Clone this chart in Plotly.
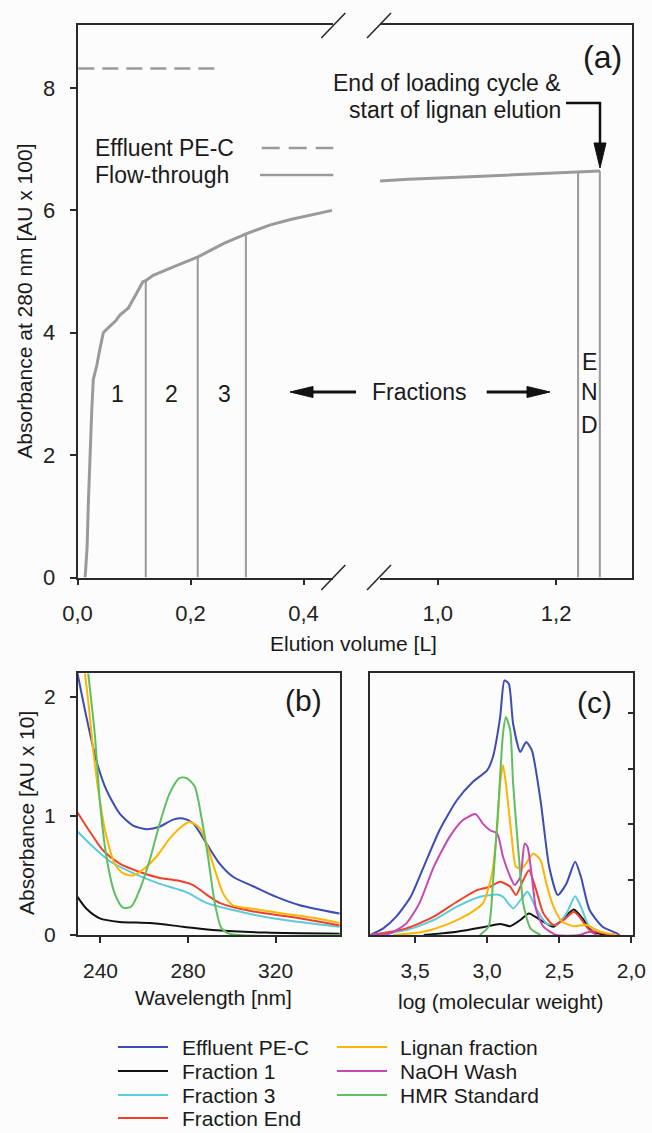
import numpy as np
import plotly.graph_objects as go

W, H = 652, 1133
FONT = "Liberation Sans, Arial, sans-serif"
AXC = "#2a2a2a"
GRAY = "#9a9a9a"

# ---------------- Panel (a) data ----------------
ft_vol = [0.0135, 0.017, 0.0194, 0.022, 0.0253, 0.028, 0.034, 0.040, 0.0457, 0.0575, 0.068,
          0.075, 0.0897, 0.1044, 0.1155, 0.1208, 0.134, 0.1707, 0.2133, 0.259, 0.2995, 0.340,
          0.377, 0.4505,
          0.902, 0.95, 1.0545, 1.15, 1.2233, 1.274]
ft_abs = [0.0, 0.5, 1.27, 2.0, 2.75, 3.24, 3.46, 3.75, 4.0, 4.11, 4.2,
          4.29, 4.40, 4.64, 4.83, 4.85, 4.94, 5.08, 5.24, 5.46, 5.62, 5.76,
          5.85, 6.00,
          6.48, 6.51, 6.55, 6.59, 6.62, 6.645]
effluent_vol = [0.0014, 0.2554]
effluent_abs = [8.32, 8.32]
fraction_bounds = [0.1208, 0.2128, 0.298, 1.237, 1.2737]
fraction_labels = ["1", "2", "3"]
fraction_label_vol = [0.0704, 0.1655, 0.261]
fraction_label_abs = 3.0
end_letters = ["E", "N", "D"]
end_letter_vol = 1.2555
end_letter_abs = [3.53, 3.03, 2.49]
BREAK_LO, BREAK_HI = 0.4527, 0.9026

# ---------------- Panel (b) data: UV spectra ----------------
b_series = {
    "Effluent PE-C": ([229.5, 233.6, 238.2, 242.7, 248.8, 254.9, 261.0, 267.0, 273.2, 277.7, 282.3,
                       288.4, 294.4, 300.5, 309.7, 320.3, 331.0, 349.2],
                      [2.2, 1.83, 1.46, 1.22, 1.02, 0.92, 0.89, 0.91, 0.97, 0.98, 0.94,
                       0.77, 0.60, 0.49, 0.41, 0.32, 0.25, 0.18]),
    "Fraction 1": ([229.5, 233.6, 239.7, 248.8, 262.5, 277.7, 293.0, 315.7, 349.2],
                   [0.32, 0.22, 0.14, 0.11, 0.10, 0.07, 0.04, 0.02, 0.01]),
    "Fraction 3": ([229.5, 236.7, 244.3, 254.9, 267.1, 279.2, 288.4, 300.5, 315.7, 331.0, 349.2],
                   [0.87, 0.74, 0.62, 0.52, 0.43, 0.36, 0.27, 0.21, 0.15, 0.11, 0.07]),
    "Fraction End": ([229.5, 235.1, 241.2, 248.8, 257.9, 267.1, 274.7, 282.3, 288.4, 294.4, 303.6,
                      315.7, 331.0, 349.2],
                     [1.03, 0.87, 0.71, 0.60, 0.53, 0.48, 0.46, 0.42, 0.34, 0.27, 0.22,
                      0.18, 0.14, 0.08]),
    "Lignan fraction": ([232.9, 234.4, 236.7, 239.7, 242.7, 246.5, 250.3, 254.9, 259.5, 265.6, 271.6,
                         277.7, 280.7, 285.3, 288.4, 292.2, 296.0, 300.5, 309.7, 323.3, 338.6, 349.2],
                        [2.2, 1.97, 1.55, 1.13, 0.83, 0.60, 0.52, 0.50, 0.55, 0.66, 0.81,
                         0.92, 0.95, 0.90, 0.77, 0.55, 0.35, 0.25, 0.22, 0.18, 0.14, 0.10]),
    "HMR Standard": ([234.4, 237.4, 239.7, 242.7, 246.5, 250.3, 254.1, 257.9, 262.5, 267.1, 271.6,
                      276.2, 279.2, 283.0, 286.1, 289.1, 292.2, 295.2, 299.0, 349.2],
                     [2.2, 1.69, 1.13, 0.66, 0.35, 0.23, 0.24, 0.38, 0.63, 0.94, 1.19,
                      1.32, 1.32, 1.25, 0.99, 0.66, 0.27, 0.06, 0.01, 0.0]),
}

# ---------------- Panel (c) data: SEC traces ----------------
c_series = {
    "Effluent PE-C": ([3.81, 3.72, 3.63, 3.53, 3.44, 3.33, 3.21, 3.10, 3.00, 2.96, 2.91, 2.88, 2.85,
                       2.82, 2.77, 2.73, 2.69, 2.63, 2.57, 2.51, 2.45, 2.39, 2.35, 2.29, 2.20, 2.10, 2.08],
                      [0.0, 0.12, 0.33, 0.69, 1.23, 1.89, 2.43, 2.76, 2.97, 3.21, 3.93, 4.59, 4.53,
                       3.81, 3.30, 3.48, 3.33, 2.43, 1.23, 0.72, 0.93, 1.32, 1.05, 0.45, 0.15, 0.03, 0.0]),
    "Fraction 1": ([3.44, 3.21, 3.03, 2.91, 2.84, 2.77, 2.71, 2.63, 2.54, 2.47, 2.40, 2.33, 2.27, 2.17],
                   [0.0, 0.06, 0.14, 0.20, 0.16, 0.27, 0.39, 0.27, 0.15, 0.30, 0.46, 0.27, 0.06, 0.0]),
    "Fraction 3": ([3.81, 3.56, 3.37, 3.21, 3.05, 2.93, 2.89, 2.82, 2.76, 2.72, 2.66, 2.59, 2.52,
                    2.45, 2.39, 2.35, 2.29, 2.17, 2.08],
                   [0.0, 0.09, 0.27, 0.51, 0.69, 0.73, 0.69, 0.48, 0.66, 0.78, 0.48, 0.21, 0.18,
                    0.39, 0.70, 0.51, 0.15, 0.02, 0.0]),
    "Fraction End": ([3.81, 3.56, 3.37, 3.21, 3.07, 2.98, 2.91, 2.84, 2.80, 2.75, 2.71, 2.66, 2.61,
                      2.54, 2.47, 2.40, 2.36, 2.29, 2.17, 2.08],
                     [0.0, 0.12, 0.33, 0.60, 0.81, 0.87, 0.96, 0.87, 0.72, 0.99, 1.17, 0.81, 0.39,
                      0.18, 0.27, 0.42, 0.33, 0.09, 0.02, 0.0]),
    "Lignan fraction": ([3.65, 3.44, 3.26, 3.12, 3.03, 2.97, 2.93, 2.91, 2.89, 2.87, 2.83, 2.80, 2.76,
                         2.73, 2.68, 2.63, 2.59, 2.54, 2.48, 2.40, 2.31, 2.22, 2.10],
                        [0.0, 0.06, 0.21, 0.39, 0.57, 1.05, 1.95, 2.73, 3.06, 2.73, 1.77, 1.23, 1.20,
                         1.29, 1.47, 1.35, 0.93, 0.51, 0.24, 0.16, 0.18, 0.06, 0.0]),
    "NaOH Wash": ([3.81, 3.67, 3.56, 3.47, 3.37, 3.26, 3.17, 3.08, 3.03, 2.98, 2.93, 2.89, 2.84,
                   2.81, 2.77, 2.74, 2.72, 2.69, 2.66, 2.61, 2.52, 2.36, 2.29, 2.24],
                  [0.0, 0.03, 0.21, 0.57, 1.23, 1.77, 2.07, 2.18, 2.01, 1.89, 1.83, 1.41, 1.05,
                   0.90, 1.05, 1.65, 1.59, 1.05, 0.45, 0.15, 0.0, 0.0, 0.06, 0.0]),
    "HMR Standard": ([3.05, 2.99, 2.96, 2.92, 2.89, 2.87, 2.84, 2.82, 2.78, 2.75, 2.70, 2.63],
                     [0.0, 0.15, 0.93, 2.43, 3.63, 3.93, 3.69, 2.73, 1.41, 0.57, 0.12, 0.0]),
}

colors = {
    "Effluent PE-C": "#3b4db2",
    "Fraction 1": "#111111",
    "Fraction 3": "#5ccbdc",
    "Fraction End": "#f0402c",
    "Lignan fraction": "#ffb400",
    "NaOH Wash": "#c548b4",
    "HMR Standard": "#5dbf5d",
}
legend_col1 = ["Effluent PE-C", "Fraction 1", "Fraction 3", "Fraction End"]
legend_col2 = ["Lignan fraction", "NaOH Wash", "HMR Standard"]


def P(x, y):
    return x / W, 1 - y / H


fig = go.Figure()

# ---- panel (a) traces ----
ft_vol_a = np.array(ft_vol)
ft_abs_a = np.array(ft_abs)
left = ft_vol_a < 0.6
fig.add_trace(go.Scatter(x=ft_vol_a[left], y=ft_abs_a[left], mode="lines",
                         line=dict(color=GRAY, width=3), xaxis="x", yaxis="y",
                         showlegend=False, name="Flow-through"))
fig.add_trace(go.Scatter(x=ft_vol_a[~left], y=ft_abs_a[~left], mode="lines",
                         line=dict(color=GRAY, width=3), xaxis="x2", yaxis="y2",
                         showlegend=False, name="Flow-through"))
fig.add_trace(go.Scatter(x=effluent_vol, y=effluent_abs, mode="lines",
                         line=dict(color=GRAY, width=2.5, dash="16px,8px"), xaxis="x", yaxis="y",
                         showlegend=False, name="Effluent PE-C"))
for xb in fraction_bounds:
    top = float(np.interp(xb, ft_vol, ft_abs))
    ax_ = ("x", "y") if xb < 0.6 else ("x2", "y2")
    fig.add_trace(go.Scatter(x=[xb, xb], y=[0, top], mode="lines",
                             line=dict(color=GRAY, width=2), xaxis=ax_[0], yaxis=ax_[1],
                             showlegend=False, hoverinfo="skip"))

# ---- panel (b) traces ----
for name, (xs, ys) in b_series.items():
    fig.add_trace(go.Scatter(x=xs, y=ys, mode="lines", name=name,
                             line=dict(color=colors[name], width=2, shape="spline", smoothing=0.7),
                             xaxis="x3", yaxis="y3", showlegend=False, cliponaxis=True))

# ---- panel (c) traces ----
for name, (xs, ys) in c_series.items():
    fig.add_trace(go.Scatter(x=xs, y=ys, mode="lines", name=name,
                             line=dict(color=colors[name], width=2, shape="spline", smoothing=0.6),
                             xaxis="x4", yaxis="y4", showlegend=False))

tick_a = dict(family=FONT, size=22, color="#222")
tick_b = dict(family=FONT, size=21, color="#222")
common = dict(showgrid=False, zeroline=False, showline=True, linecolor=AXC, linewidth=1.6,
              tickcolor=AXC, tickwidth=1.6, ticklen=6, automargin=False)

ya_dom = [1 - 577.5 / H, 1 - 25 / H]
yb_dom = [1 - 935 / H, 1 - 673.3 / H]

fig.update_layout(
    width=W, height=H, autosize=False,
    margin=dict(l=0, r=0, t=0, b=0, pad=0),
    paper_bgcolor="#fcfcfc", plot_bgcolor="rgba(0,0,0,0)",
    separators=", ",
    showlegend=False,
    font=dict(family=FONT, color="#222"),
    xaxis=dict(domain=[77.5 / W, 333.3 / W], range=[0, BREAK_LO], anchor="y", mirror=True,
               ticks="outside", tickvals=[0, 0.2, 0.4], tickformat=".1f", tickfont=tick_a,
               ticklabelstandoff=9, **common),
    yaxis=dict(domain=ya_dom, range=[0, 9.03], anchor="x", ticks="outside",
               tickvals=[0, 2, 4, 6, 8], tickfont=tick_a, ticklabelstandoff=10, **common),
    xaxis2=dict(domain=[380 / W, 632 / W], range=[BREAK_HI, 1.328], anchor="y2", mirror=True,
                ticks="outside", tickvals=[1.0, 1.2], tickformat=".1f", tickfont=tick_a,
                ticklabelstandoff=9, **common),
    yaxis2=dict(domain=ya_dom, range=[0, 9.03], anchor="x2", side="right", ticks="",
                showticklabels=False, **common),
    xaxis3=dict(domain=[77.7 / W, 340 / W], range=[229.6, 349.4], anchor="y3", mirror=True,
                ticks="outside", tickvals=[240, 280, 320], tickfont=tick_b,
                ticklabelstandoff=10, **common),
    yaxis3=dict(domain=yb_dom, range=[0, 2.2], anchor="x3", mirror=True, ticks="outside",
                tickvals=[0, 1, 2], tickfont=tick_b, ticklabelstandoff=10, **common),
    xaxis4=dict(domain=[370 / W, 633 / W], range=[3.812, 1.989], anchor="y4", mirror=True,
                ticks="outside", tickvals=[3.5, 3.0, 2.5, 2.0], tickformat=".1f",
                tickfont=tick_b, ticklabelstandoff=10, **common),
    yaxis4=dict(domain=yb_dom, range=[0, 4.72], anchor="x4", side="right", mirror=True,
                ticks="inside", tickvals=[0, 1, 2, 3, 4], showticklabels=False,
                **{**common, "ticklen": 5}),
)

ann = []
shapes = []


def text(x, y, s, size, xanchor="center", yanchor="middle", angle=0):
    px_, py_ = P(x, y)
    ann.append(dict(x=px_, y=py_, xref="paper", yref="paper", text=s, showarrow=False,
                    font=dict(family=FONT, size=size, color="#1a1a1a"),
                    xanchor=xanchor, yanchor=yanchor, textangle=angle))


def line(x0, y0, x1, y1, color="#111", width=2.5, dash=None):
    a, b = P(x0, y0)
    c, d = P(x1, y1)
    shapes.append(dict(type="line", xref="paper", yref="paper", x0=a, y0=b, x1=c, y1=d,
                       line=dict(color=color, width=width, dash=dash)))


def tri(pts, color="#111"):
    path = "M " + " L ".join(f"{x / W:.5f},{1 - y / H:.5f}" for x, y in pts) + " Z"
    shapes.append(dict(type="path", xref="paper", yref="paper", path=path,
                       fillcolor=color, line=dict(color=color, width=1)))


# axis titles
text(25, 301.7, "Absorbance at 280 nm [AU x 100]", 21, angle=-90)
text(353, 643, "Elution volume [L]", 21)
text(26, 813, "Absorbance [AU x 10]", 21, angle=-90)
text(213, 997, "Wavelength [nm]", 21)
text(500, 1001, "log (molecular weight)", 21)

# panel labels
text(602, 57, "(a)", 32)
text(303, 700, "(b)", 30)
text(594, 702, "(c)", 30)

# panel (a) annotations
text(563, 82.7, "End of loading cycle &", 23, xanchor="right")
text(563, 110, "start of lignan elution", 23, xanchor="right")
line(566, 103, 601, 103, width=2.5)
line(600, 102, 600, 146, width=2.5)
tri([(594, 143), (606, 143), (600, 168)])

text(93, 148, "Effluent PE-C", 23, xanchor="left")
text(93, 175, "Flow-through", 23, xanchor="left")
line(261.7, 148, 333.3, 148, color=GRAY, width=2.5, dash="18px,9px")
line(260, 175, 333.3, 175, color=GRAY, width=2.5)

for lab, xv in zip(fraction_labels, fraction_label_vol):
    ann.append(dict(x=xv, y=fraction_label_abs, xref="x", yref="y", text=lab, showarrow=False,
                    font=dict(family=FONT, size=23, color="#1a1a1a")))
for lab, yv in zip(end_letters, end_letter_abs):
    ann.append(dict(x=end_letter_vol, y=yv, xref="x2", yref="y2", text=lab, showarrow=False,
                    font=dict(family=FONT, size=23, color="#1a1a1a")))

text(419.7, 392, "Fractions", 23)
line(311, 392, 356, 392, width=3)
tri([(290, 392), (313, 386.5), (313, 397.5)])
line(486.7, 392, 529, 392, width=3)
tri([(550, 392), (527, 386.5), (527, 397.5)])

# axis break slashes
for cx in (333.3, 379):
    for cy in (25.5, 577.5):
        line(cx - 12, cy + 12.5, cx + 12, cy - 12.5, color=AXC, width=1.6)

# manual legend
rows = [1047, 1071, 1095, 1118]
for name, ry in zip(legend_col1, rows):
    line(118, ry, 168, ry, color=colors[name], width=2.2)
    text(180, ry, name, 21, xanchor="left")
for name, ry in zip(legend_col2, rows):
    line(337, ry, 387, ry, color=colors[name], width=2.2)
    text(398, ry, name, 21, xanchor="left")

fig.update_layout(annotations=ann, shapes=shapes)
fig.write_html("out.html", config={"displayModeBar": False},
               post_script="document.body.style.margin='0';")
